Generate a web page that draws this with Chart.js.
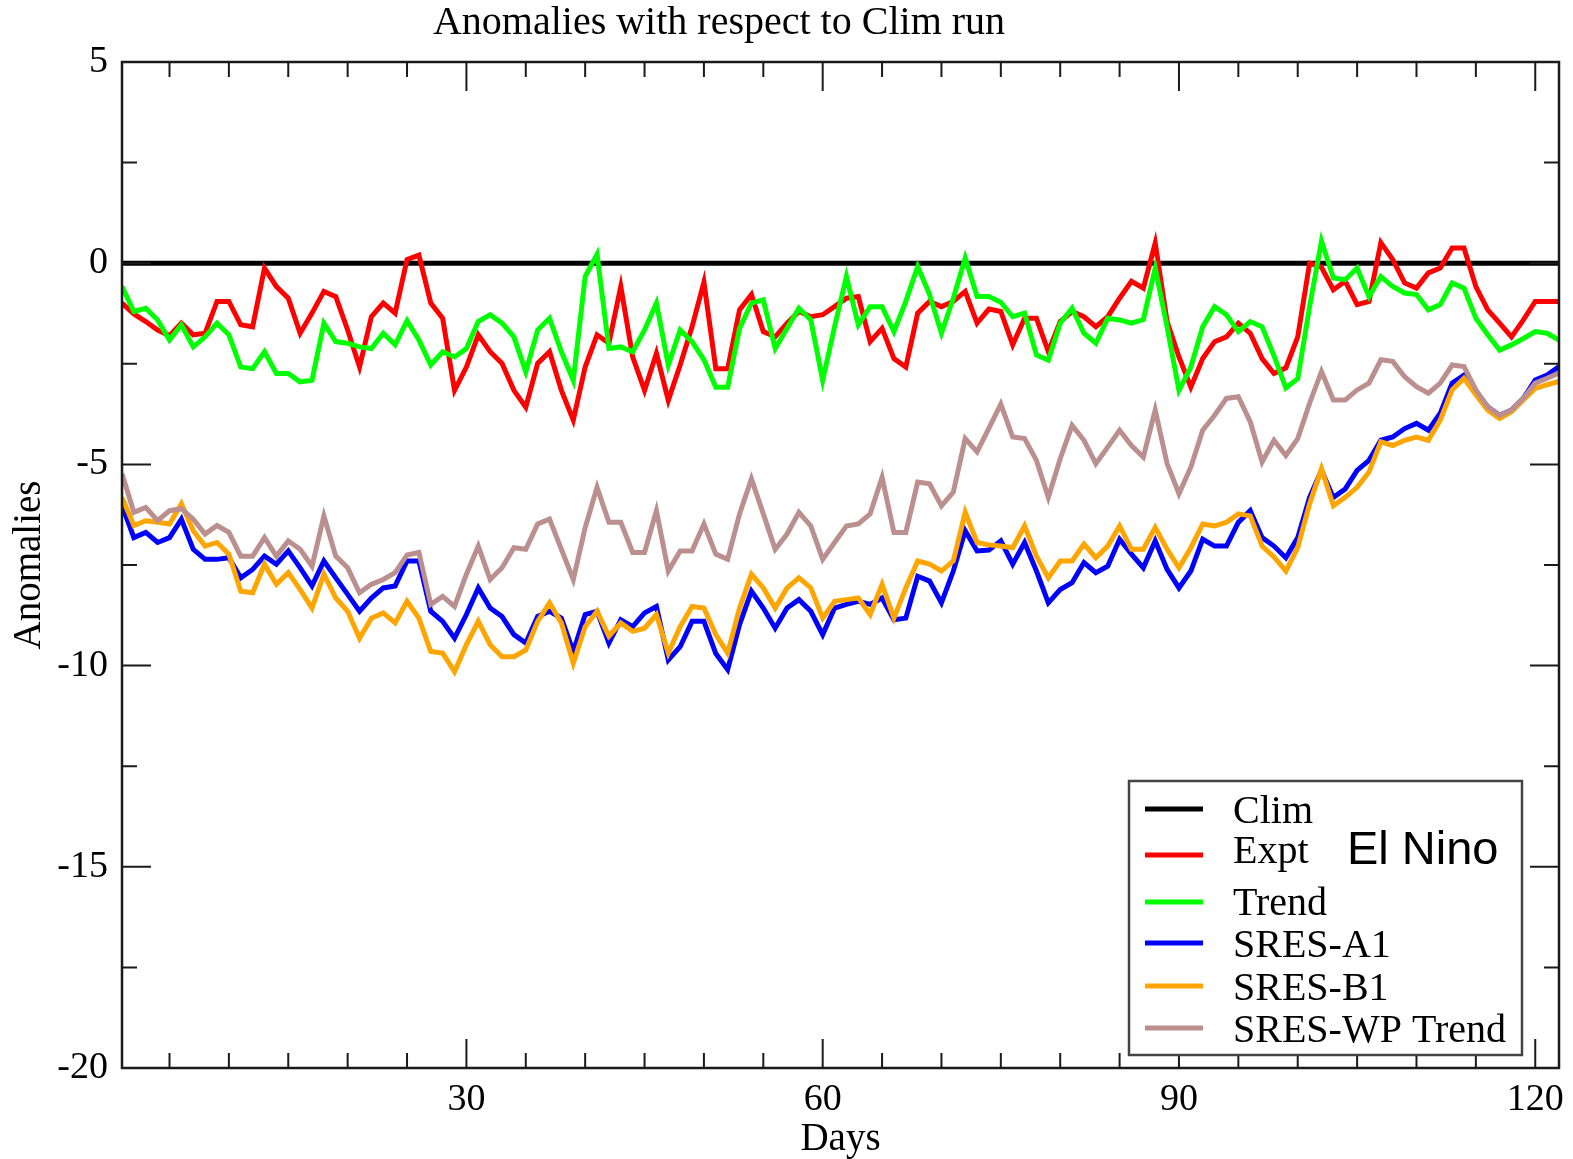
<!DOCTYPE html>
<html>
<head>
<meta charset="utf-8">
<title>Anomalies with respect to Clim run</title>
<script src="https://cdn.jsdelivr.net/npm/chart.js@4.4.1/dist/chart.umd.min.js"></script>
<style>
    html, body { margin: 0; padding: 0; background: #fff; }
    #wrap { width: 1573px; height: 1159px; }
</style>
</head>
<body>
<div id="wrap"><canvas id="chart" width="1573" height="1159"></canvas></div>
<script>
// ── Dati ─────────────────────────────────────────────────────
var chartTitle = 'Anomalies with respect to Clim run';
var seriesLabels = ['Clim', 'Expt', 'Trend', 'SRES-A1', 'SRES-B1', 'SRES-WP Trend'];
var seriesColors = ['#000000', '#ff0000', '#00ff00', '#0000ff', '#ffa500', '#bc8f8f'];

var days = [];
for (var d = 1; d <= 122; d++) days.push(d);

var climDays = [1, 122];
var climValues = [0, 0];

var expt = [-0.99, -1.26, -1.45, -1.66, -1.8, -1.49, -1.78, -1.74, -0.95, -0.95,
    -1.53, -1.58, -0.12, -0.58, -0.87, -1.74, -1.24, -0.7, -0.83, -1.66,
    -2.58, -1.33, -0.99, -1.24, 0.09, 0.2, -0.99, -1.37, -3.16, -2.58,
    -1.78, -2.2, -2.49, -3.16, -3.58, -2.49, -2.2, -3.16, -3.9, -2.58,
    -1.78, -1.99, -0.58, -2.33, -3.16, -2.24, -3.41, -2.53, -1.58, -0.47,
    -2.62, -2.62, -1.16, -0.78, -1.7, -1.83, -1.49, -1.2, -1.33, -1.28,
    -1.08, -0.87, -0.83, -1.95, -1.62, -2.37, -2.58, -1.24, -0.95, -1.08,
    -0.95, -0.7, -1.49, -1.14, -1.2, -2.03, -1.37, -1.37, -2.2, -1.45,
    -1.2, -1.33, -1.58, -1.33, -0.87, -0.45, -0.62, 0.5, -1.45, -2.33,
    -3.08, -2.37, -1.95, -1.83, -1.49, -1.74, -2.37, -2.74, -2.6, -1.83,
    0.0, -0.1, -0.66, -0.45, -1.03, -0.95, 0.51, 0.09, -0.49, -0.62,
    -0.24, -0.12, 0.38, 0.38, -0.58, -1.16, -1.49, -1.83, -1.41, -0.95,
    -0.95, -0.95];

var trend = [-0.58, -1.2, -1.12, -1.41, -1.91, -1.53, -2.08, -1.83, -1.49, -1.78,
    -2.58, -2.62, -2.2, -2.74, -2.74, -2.95, -2.91, -1.49, -1.95, -1.99,
    -2.08, -2.12, -1.74, -2.03, -1.43, -1.91, -2.53, -2.2, -2.33, -2.12,
    -1.45, -1.28, -1.49, -1.83, -2.7, -1.66, -1.37, -2.2, -2.91, -0.33,
    0.22, -2.12, -2.08, -2.2, -1.66, -0.99, -2.53, -1.66, -1.95, -2.4,
    -3.08, -3.08, -1.62, -0.99, -0.91, -2.12, -1.62, -1.12, -1.41, -2.91,
    -1.58, -0.33, -1.53, -1.08, -1.08, -1.7, -0.95, -0.08, -0.78, -1.74,
    -0.87, 0.13, -0.83, -0.83, -0.97, -1.33, -1.24, -2.28, -2.41, -1.49,
    -1.12, -1.74, -1.99, -1.37, -1.41, -1.49, -1.4, -0.12, -1.58, -3.16,
    -2.58, -1.58, -1.08, -1.28, -1.7, -1.45, -1.58, -2.3, -3.1, -2.87,
    -1.08, 0.55, -0.37, -0.41, -0.12, -0.83, -0.33, -0.58, -0.74, -0.78,
    -1.16, -1.03, -0.49, -0.62, -1.37, -1.78, -2.16, -2.03, -1.87, -1.7,
    -1.74, -1.91];

var sresA1 = [-6.02, -6.82, -6.69, -6.94, -6.82, -6.36, -7.11, -7.36, -7.36, -7.32,
    -7.82, -7.61, -7.28, -7.48, -7.15, -7.57, -8.02, -7.4, -7.82, -8.23,
    -8.65, -8.32, -8.07, -8.02, -7.4, -7.4, -8.65, -8.9, -9.32, -8.73,
    -8.07, -8.57, -8.78, -9.23, -9.44, -8.78, -8.65, -8.82, -9.65, -8.73,
    -8.65, -9.44, -8.86, -9.03, -8.69, -8.53, -9.86, -9.53, -8.9, -8.9,
    -9.7, -10.1, -8.98, -8.15, -8.57, -9.07, -8.57, -8.36, -8.65, -9.23,
    -8.57, -8.48, -8.4, -8.48, -8.32, -8.86, -8.82, -7.78, -7.9, -8.44,
    -7.65, -6.65, -7.15, -7.13, -6.9, -7.48, -6.94, -7.65, -8.44, -8.11,
    -7.94, -7.44, -7.69, -7.53, -6.86, -7.23, -7.57, -6.9, -7.61, -8.07,
    -7.65, -6.86, -7.03, -7.03, -6.44, -6.15, -6.82, -7.03, -7.32, -6.82,
    -5.82, -5.15, -5.82, -5.61, -5.15, -4.9, -4.4, -4.32, -4.11, -3.98,
    -4.15, -3.73, -2.98, -2.78, -3.19, -3.57, -3.78, -3.65, -3.36, -2.9,
    -2.78, -2.57];

var sresB1 = [-5.82, -6.52, -6.4, -6.44, -6.48, -5.98, -6.65, -7.03, -6.94, -7.23,
    -8.15, -8.19, -7.48, -7.98, -7.69, -8.11, -8.57, -7.73, -8.32, -8.65,
    -9.32, -8.82, -8.69, -8.94, -8.4, -8.82, -9.65, -9.69, -10.15, -9.48,
    -8.9, -9.48, -9.78, -9.78, -9.61, -8.9, -8.44, -8.94, -9.94, -9.03,
    -8.65, -9.27, -8.94, -9.15, -9.07, -8.73, -9.69, -9.03, -8.53, -8.57,
    -9.23, -9.69, -8.57, -7.73, -8.07, -8.57, -8.07, -7.82, -8.07, -8.82,
    -8.4, -8.36, -8.32, -8.73, -7.98, -8.82, -8.07, -7.4, -7.48, -7.65,
    -7.4, -6.19, -6.94, -7.0, -7.03, -7.07, -6.53, -7.28, -7.82, -7.4,
    -7.4, -6.98, -7.32, -7.03, -6.53, -7.11, -7.11, -6.57, -7.11, -7.57,
    -7.07, -6.48, -6.53, -6.44, -6.23, -6.28, -7.03, -7.3, -7.65, -7.07,
    -5.98, -5.11, -6.03, -5.82, -5.57, -5.19, -4.44, -4.53, -4.4, -4.32,
    -4.4, -3.9, -3.15, -2.86, -3.27, -3.65, -3.86, -3.69, -3.4, -3.11,
    -3.02, -2.94];

var sresWP = [-5.23, -6.19, -6.07, -6.4, -6.15, -6.1, -6.36, -6.73, -6.52, -6.69,
    -7.28, -7.28, -6.82, -7.28, -6.9, -7.11, -7.53, -6.28, -7.28, -7.57,
    -8.19, -7.98, -7.86, -7.69, -7.25, -7.19, -8.48, -8.28, -8.53, -7.73,
    -7.03, -7.86, -7.57, -7.07, -7.11, -6.48, -6.36, -7.11, -7.86, -6.57,
    -5.57, -6.44, -6.44, -7.19, -7.19, -6.15, -7.65, -7.15, -7.15, -6.48,
    -7.23, -7.36, -6.23, -5.36, -6.23, -7.11, -6.73, -6.19, -6.53, -7.36,
    -6.94, -6.53, -6.48, -6.23, -5.32, -6.69, -6.69, -5.44, -5.48, -6.03,
    -5.69, -4.36, -4.69, -4.1, -3.5, -4.32, -4.36, -4.9, -5.82, -4.86,
    -4.03, -4.4, -4.98, -4.57, -4.15, -4.53, -4.82, -3.65, -4.98, -5.73,
    -5.07, -4.15, -3.78, -3.36, -3.32, -3.94, -4.94, -4.4, -4.78, -4.36,
    -3.48, -2.69, -3.4, -3.4, -3.15, -2.98, -2.4, -2.44, -2.82, -3.07,
    -3.23, -2.98, -2.53, -2.57, -3.15, -3.57, -3.78, -3.65, -3.36, -2.98,
    -2.86, -2.73];

// tick: minori ogni 5 giorni / 2.5 unità, etichette sui maggiori
var xTicks = [5, 10, 15, 20, 25, 30, 35, 40, 45, 50, 55, 60, 65, 70, 75, 80, 85, 90, 95, 100, 105, 110, 115, 120];
var xMajor = [30, 60, 90, 120];
var yTicks = [-20, -17.5, -15, -12.5, -10, -7.5, -5, -2.5, 0, 2.5, 5];
var yMajor = [-20, -15, -10, -5, 0, 5];

// ── Helpers ────────────────────────────────────────────────
var SERIF = "'Liberation Serif', 'Times New Roman', serif";

function toPoints(xs, ys) {
    return xs.map(function (x, i) { return { x: x, y: ys[i] }; });
}

function makeDataset(idx, points) {
    return {
        label: seriesLabels[idx],
        data: points,
        borderColor: seriesColors[idx],
        backgroundColor: seriesColors[idx],
        borderWidth: 5,
        pointRadius: 0,
        tension: 0,
        fill: false,
        order: 6 - idx
    };
}

// ── Titolo (spostato a sinistra come nell'originale) ───────
var titlePlugin = {
    id: 'leftTitle',
    afterDraw: function (chart) {
        var ctx = chart.ctx;
        ctx.save();
        ctx.fillStyle = '#000';
        ctx.font = '40px ' + SERIF;
        ctx.textAlign = 'center';
        ctx.textBaseline = 'alphabetic';
        ctx.fillText(chartTitle, 719, 34);
        ctx.restore();
    }
};

// ── Cornice con tacche interne (stile xmgrace) ─────────────
var framePlugin = {
    id: 'frame',
    afterDatasetsDraw: function (chart) {
        var ctx = chart.ctx;
        var a = chart.chartArea;
        var xs = chart.scales.x;
        var ys = chart.scales.y;
        ctx.save();
        ctx.strokeStyle = '#1a1a1a';
        ctx.lineWidth = 2;
        ctx.beginPath();
        xTicks.forEach(function (v) {
            var px = xs.getPixelForValue(v);
            var len = xMajor.indexOf(v) >= 0 ? 29 : 15;
            ctx.moveTo(px, a.top); ctx.lineTo(px, a.top + len);
            ctx.moveTo(px, a.bottom); ctx.lineTo(px, a.bottom - len);
        });
        yTicks.forEach(function (v) {
            var py = ys.getPixelForValue(v);
            var len = yMajor.indexOf(v) >= 0 ? 29 : 15;
            ctx.moveTo(a.left, py); ctx.lineTo(a.left + len, py);
            ctx.moveTo(a.right, py); ctx.lineTo(a.right - len, py);
        });
        ctx.stroke();
        ctx.lineWidth = 2.5;
        ctx.strokeRect(a.left, a.top, a.right - a.left, a.bottom - a.top);
        ctx.restore();
    }
};

// ── Legenda dentro il grafico + etichetta "El Nino" ────────
var legendPlugin = {
    id: 'boxLegend',
    afterDraw: function (chart) {
        var ctx = chart.ctx;
        var lineY = [809, 855, 902, 943, 986, 1028];
        var textY = [823, 863, 915, 957, 1000, 1042];
        ctx.save();
        ctx.fillStyle = '#fff';
        ctx.fillRect(1129, 781, 393, 274);
        ctx.strokeStyle = '#444';
        ctx.lineWidth = 2.5;
        ctx.strokeRect(1129, 781, 393, 274);

        chart.data.datasets.forEach(function (ds, i) {
            ctx.strokeStyle = ds.borderColor;
            ctx.lineWidth = 5;
            ctx.beginPath();
            ctx.moveTo(1145, lineY[i]);
            ctx.lineTo(1203, lineY[i]);
            ctx.stroke();
            ctx.fillStyle = '#000';
            ctx.font = '40px ' + SERIF;
            ctx.textBaseline = 'alphabetic';
            ctx.textAlign = 'left';
            ctx.fillText(ds.label, 1233, textY[i]);
        });

        ctx.fillStyle = '#000';
        ctx.font = "47px 'Liberation Sans', Arial, sans-serif";
        ctx.fillText('El Nino', 1347, 864);
        ctx.restore();
    }
};

// ── Grafico ────────────────────────────────────────────────
var datasets = [
    makeDataset(0, toPoints(climDays, climValues)),
    makeDataset(1, toPoints(days, expt)),
    makeDataset(2, toPoints(days, trend)),
    makeDataset(3, toPoints(days, sresA1)),
    makeDataset(4, toPoints(days, sresB1)),
    makeDataset(5, toPoints(days, sresWP))
];

new Chart(document.getElementById('chart').getContext('2d'), {
    type: 'line',
    data: { datasets: datasets },
    plugins: [framePlugin, legendPlugin, titlePlugin],
    options: {
        responsive: false,
        animation: false,
        layout: { padding: { left: 0, right: 14, top: 62, bottom: 0 } },
        plugins: {
            legend: { display: false },
            tooltip: { enabled: false },
            title: { display: false }
        },
        scales: {
            x: {
                type: 'linear',
                min: 1,
                max: 122,
                afterBuildTicks: function (scale) {
                    scale.ticks = xTicks.map(function (v) { return { value: v }; });
                },
                afterFit: function (scale) { scale.height = 91; },
                ticks: {
                    autoSkip: false,
                    maxRotation: 0,
                    padding: 9,
                    color: '#000',
                    font: { family: SERIF, size: 38 },
                    callback: function (v) { return xMajor.indexOf(v) >= 0 ? String(v) : ''; }
                },
                grid: { display: false, drawTicks: false },
                border: { display: false },
                title: {
                    display: true,
                    text: 'Days',
                    color: '#000',
                    font: { family: SERIF, size: 39, lineHeight: 1.0 },
                    padding: { top: 0, bottom: 0 }
                }
            },
            y: {
                min: -20,
                max: 5,
                afterBuildTicks: function (scale) {
                    scale.ticks = yTicks.map(function (v) { return { value: v }; });
                },
                afterFit: function (scale) { scale.width = 122; },
                ticks: {
                    autoSkip: false,
                    padding: 14,
                    color: '#000',
                    font: { family: SERIF, size: 38 },
                    callback: function (v) { return yMajor.indexOf(v) >= 0 ? String(v) : ''; }
                },
                grid: { display: false, drawTicks: false },
                border: { display: false },
                title: {
                    display: true,
                    text: 'Anomalies',
                    color: '#000',
                    font: { family: SERIF, size: 39 },
                    padding: { top: 6, bottom: 0 }
                }
            }
        }
    }
});
</script>
</body>
</html>
